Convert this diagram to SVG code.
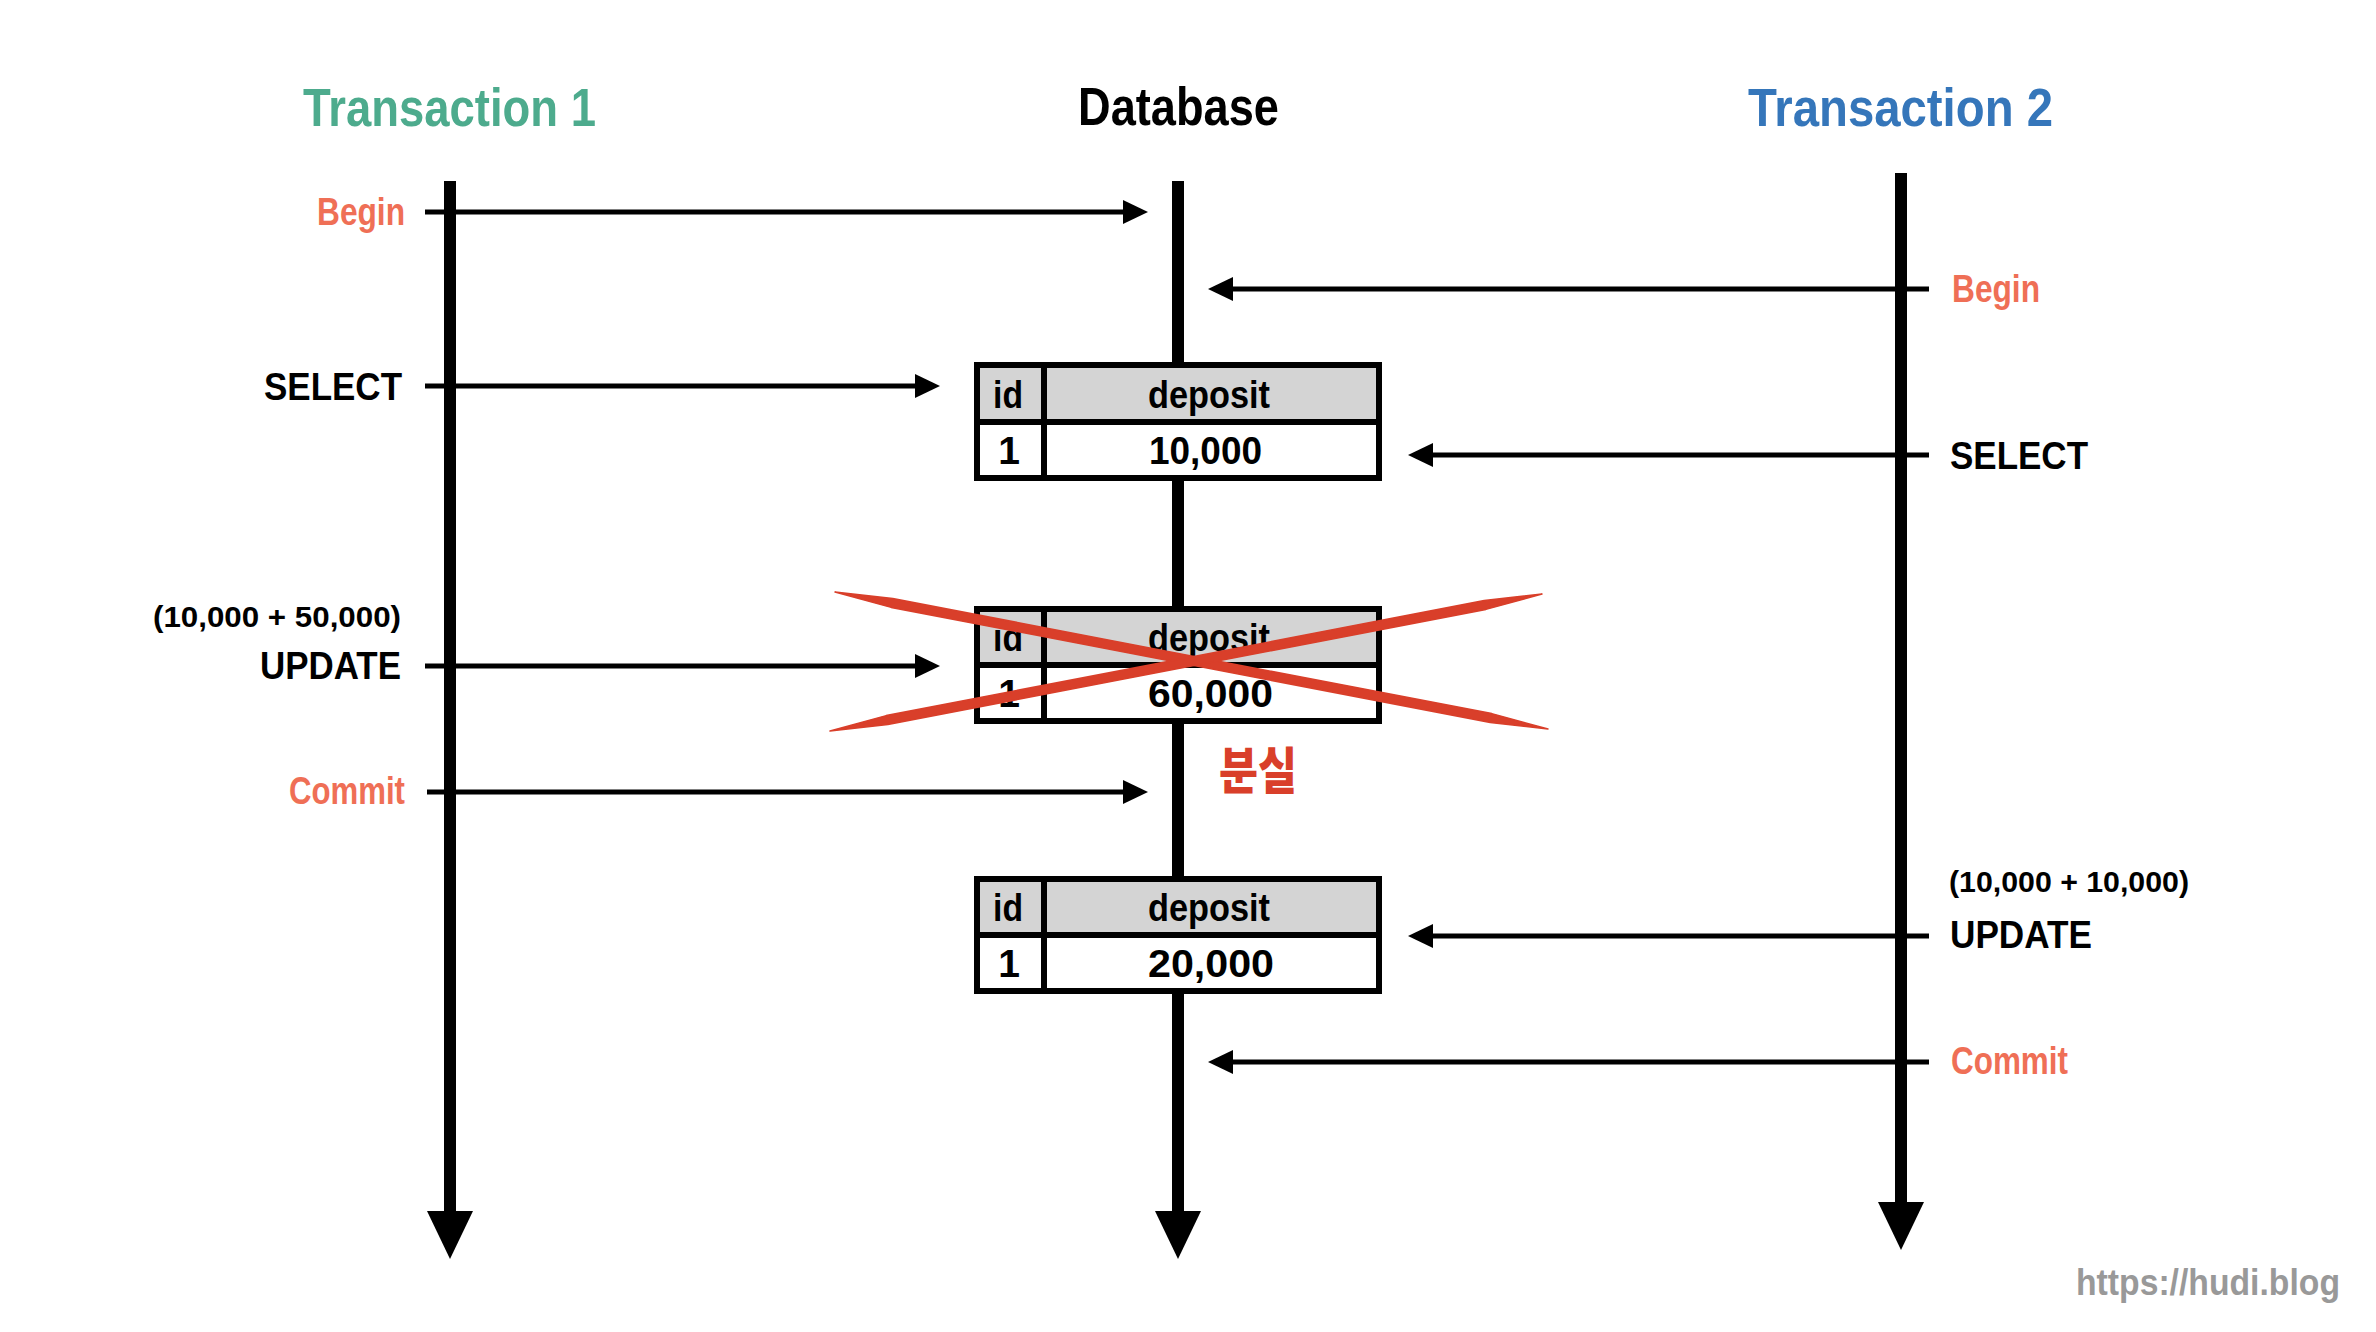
<svg xmlns="http://www.w3.org/2000/svg" width="2376" height="1332" viewBox="0 0 2376 1332">
<style>
text{font-family:"Liberation Sans",Arial,sans-serif;font-weight:bold}
.title{font-size:53px}
.lbl{font-size:38px;fill:#000}
.sub{font-size:30px;fill:#000}
.org{fill:#ef6f56}
.cell{font-size:39px;fill:#000}
.one{font-size:39px;fill:#000;text-anchor:middle}
.msg{stroke:#000;stroke-width:5;fill:none;marker-end:url(#ah)}
.life{stroke:#000;stroke-width:12;fill:none;marker-end:url(#big)}
.hdr{fill:#d4d4d4;stroke:none}
.box{fill:none;stroke:#000;stroke-width:6}
.div{stroke:#000;stroke-width:6}
.cross{fill:#d93f2a;stroke:#d93f2a;stroke-width:1.5;stroke-linejoin:round}
</style>
<defs>
<marker id="ah" markerUnits="userSpaceOnUse" markerWidth="25" markerHeight="24" viewBox="0 0 25 24" refX="3" refY="12" orient="auto"><path d="M0,0 L25,12 L0,24 Z" fill="#000"/></marker>
<marker id="big" markerUnits="userSpaceOnUse" markerWidth="48" markerHeight="46" viewBox="0 0 48 46" refX="2" refY="23" orient="auto"><path d="M0,0 L48,23 L0,46 Z" fill="#000"/></marker>
</defs>
<rect width="2376" height="1332" fill="#fff"/>

<g id="lifelines">
<path id="t1-life" class="life" d="M450,181 V1213"/>
<path id="db-life" class="life" d="M1178,181 V1213"/>
<path id="t2-life" class="life" d="M1901,173 V1204"/>
</g>

<g id="titles">
<text id="title-t1" class="title" x="303" y="126" fill="#4dab8d" textLength="293" lengthAdjust="spacingAndGlyphs">Transaction 1</text>
<text id="title-db" class="title" x="1078" y="125" fill="#000" textLength="201" lengthAdjust="spacingAndGlyphs">Database</text>
<text id="title-t2" class="title" x="1748" y="126" fill="#3576ba" textLength="305" lengthAdjust="spacingAndGlyphs">Transaction 2</text>
</g>

<g id="connectors">
<path class="msg" d="M425,212 H1126"/>
<path class="msg" d="M425,386 H918"/>
<path class="msg" d="M425,666 H918"/>
<path class="msg" d="M427,792 H1126"/>
<path class="msg" d="M1929,289 H1230"/>
<path class="msg" d="M1929,455 H1430"/>
<path class="msg" d="M1929,936 H1430"/>
<path class="msg" d="M1929,1062 H1230"/>
</g>

<g id="t1-labels">
<text class="lbl org" x="317" y="225" textLength="88" lengthAdjust="spacingAndGlyphs">Begin</text>
<text class="lbl" x="264" y="400" textLength="138" lengthAdjust="spacingAndGlyphs">SELECT</text>
<text class="sub" x="153" y="627" textLength="248" lengthAdjust="spacingAndGlyphs">(10,000 + 50,000)</text>
<text class="lbl" x="260" y="679" textLength="141" lengthAdjust="spacingAndGlyphs">UPDATE</text>
<text class="lbl org" x="289" y="804" textLength="116" lengthAdjust="spacingAndGlyphs">Commit</text>
</g>

<g id="t2-labels">
<text class="lbl org" x="1952" y="302" textLength="88" lengthAdjust="spacingAndGlyphs">Begin</text>
<text class="lbl" x="1950" y="469" textLength="138" lengthAdjust="spacingAndGlyphs">SELECT</text>
<text class="sub" x="1949" y="892" textLength="240" lengthAdjust="spacingAndGlyphs">(10,000 + 10,000)</text>
<text class="lbl" x="1950" y="948" textLength="142" lengthAdjust="spacingAndGlyphs">UPDATE</text>
<text class="lbl org" x="1951" y="1074" textLength="117" lengthAdjust="spacingAndGlyphs">Commit</text>
</g>

<g id="table-1">
<rect x="977" y="365" width="402" height="113" fill="#fff"/>
<rect class="hdr" x="977" y="365" width="402" height="57"/>
<rect class="box" x="977" y="365" width="402" height="113"/>
<line class="div" x1="977" y1="422" x2="1379" y2="422"/>
<line class="div" x1="1044" y1="365" x2="1044" y2="478"/>
<text class="cell" x="993" y="408" textLength="30" lengthAdjust="spacingAndGlyphs">id</text>
<text class="cell" x="1148" y="408" textLength="122" lengthAdjust="spacingAndGlyphs">deposit</text>
<text class="one" x="1009" y="464">1</text>
<text class="cell" x="1149" y="464" textLength="113" lengthAdjust="spacingAndGlyphs">10,000</text>
</g>

<g id="table-2">
<rect x="977" y="609" width="402" height="112" fill="#fff"/>
<rect class="hdr" x="977" y="609" width="402" height="56"/>
<rect class="box" x="977" y="609" width="402" height="112"/>
<line class="div" x1="977" y1="665" x2="1379" y2="665"/>
<line class="div" x1="1044" y1="609" x2="1044" y2="721"/>
<text class="cell" x="993" y="651" textLength="30" lengthAdjust="spacingAndGlyphs">id</text>
<text class="cell" x="1148" y="651" textLength="122" lengthAdjust="spacingAndGlyphs">deposit</text>
<text class="one" x="1009" y="707">1</text>
<text class="cell" x="1148" y="707" textLength="125" lengthAdjust="spacingAndGlyphs">60,000</text>
</g>

<g id="lost-mark">
<path class="cross" d="M835,592 L891.2,607.4 L1490.2,722.4 L1548,729 L1491.8,713.6 L892.8,598.6 Z"/>
<path class="cross" d="M830,731 L887.9,724.4 L1485.9,609.4 L1542,594 L1484.2,600.6 L886.2,715.6 Z"/>
<text x="1219" y="789" font-size="50" fill="#d93f2a" textLength="78" lengthAdjust="spacingAndGlyphs" style="font-family:'Noto Sans CJK KR','Noto Sans',sans-serif;font-weight:900">분실</text>
</g>

<g id="table-3">
<rect x="977" y="879" width="402" height="112" fill="#fff"/>
<rect class="hdr" x="977" y="879" width="402" height="56"/>
<rect class="box" x="977" y="879" width="402" height="112"/>
<line class="div" x1="977" y1="935" x2="1379" y2="935"/>
<line class="div" x1="1044" y1="879" x2="1044" y2="991"/>
<text class="cell" x="993" y="921" textLength="30" lengthAdjust="spacingAndGlyphs">id</text>
<text class="cell" x="1148" y="921" textLength="122" lengthAdjust="spacingAndGlyphs">deposit</text>
<text class="one" x="1009" y="977">1</text>
<text class="cell" x="1148" y="977" textLength="126" lengthAdjust="spacingAndGlyphs">20,000</text>
</g>

<text id="watermark" x="2076" y="1295" font-size="37" fill="#999" textLength="264" lengthAdjust="spacingAndGlyphs">https://hudi.blog</text>
</svg>
